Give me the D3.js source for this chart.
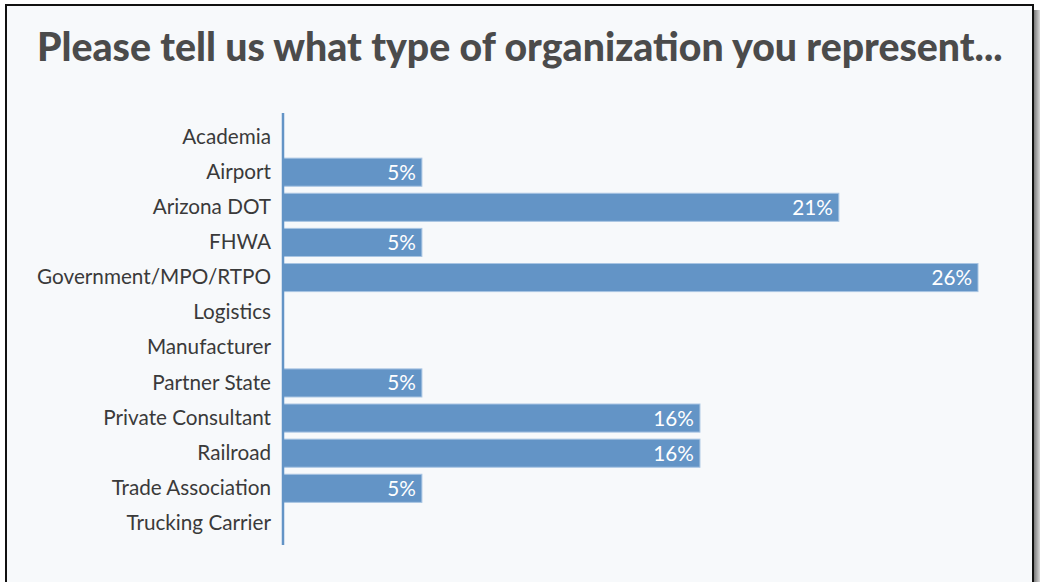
<!DOCTYPE html>
<html><head><meta charset="utf-8">
<script src="https://cdn.jsdelivr.net/npm/d3@7"></script>
<style>html,body{margin:0;padding:0;background:#fff;overflow:hidden}</style>
</head><body>
<svg id="chart" width="1040" height="582"></svg>
<script>
const titleText = "Please tell us what type of organization you represent...";
const categories = ["Academia","Airport","Arizona DOT","FHWA","Government/MPO/RTPO","Logistics","Manufacturer","Partner State","Private Consultant","Railroad","Trade Association","Trucking Carrier"];
const percents = [0, 5.26, 21.05, 5.26, 26.32, 0, 0, 5.26, 15.79, 15.79, 5.26, 0];

const svg = d3.select("#chart");
const defs = svg.append("defs");
const grad = defs.append("linearGradient").attr("id","shadow").attr("x1","0").attr("x2","1");
grad.append("stop").attr("offset","0").attr("stop-color","#7a7a7a");
grad.append("stop").attr("offset","1").attr("stop-color","#d8d8d8");

// shadow + frame
svg.append("rect").attr("x",1034).attr("y",10).attr("width",6).attr("height",600).attr("fill","url(#shadow)");
svg.append("rect").attr("x",6).attr("y",5).attr("width",1027).attr("height",600)
  .attr("fill","#f7f9fb").attr("stroke","#111").attr("stroke-width",2);

// title
const title = svg.append("text").attr("x",37).attr("y",61)
  .attr("font-family","Lato, 'Open Sans', sans-serif").attr("font-weight",900)
  .attr("font-size",36).attr("fill","#4b4b4b").text(titleText);
const tw = title.node().getComputedTextLength();
title.attr("font-size", 36*966/tw);

const x = d3.scaleLinear().domain([0, 26.32]).range([283, 978]);
const y = d3.scaleBand().domain(categories).range([119.5, 541]).paddingInner(0.2).paddingOuter(0.1);

const fmt = d => Math.round(d) + "%";
const rows = categories.map((c,i)=>({c, v: percents[i]})).filter(d=>d.v>0);

const g = svg.append("g");
g.selectAll("rect.bar").data(rows)
  .join("rect").attr("class","bar")
  .attr("x", x(0)).attr("y", d=>y(d.c))
  .attr("width", d=>x(d.v)-x(0)).attr("height", y.bandwidth())
  .attr("fill","#6394c6").attr("stroke","#a9c5e3").attr("stroke-width",1);

// axis
const axis = d3.axisLeft(y).tickSize(0).tickPadding(12);
const ag = svg.append("g").attr("transform",`translate(${x(0)},0)`).call(axis);
ag.select(".domain").attr("stroke","#6394c6").attr("stroke-width",2.5).attr("d","M0,113V545");
const labs = ag.selectAll("text").attr("font-family","Lato, 'Noto Sans', sans-serif").attr("font-size",20).attr("fill","#3a3a3a");
const gw = labs.filter(d=>d==="Government/MPO/RTPO").node().getComputedTextLength();
const fs = 20*234/gw;
labs.attr("font-size", fs);

g.selectAll("text.val").data(rows)
  .join("text").attr("class","val")
  .attr("x", d=>x(d.v)-6).attr("y", d=>y(d.c)+y.bandwidth()/2).attr("dy","0.36em")
  .attr("text-anchor","end").attr("fill","#fff")
  .attr("font-family","Lato, 'Noto Sans', sans-serif").attr("font-size",fs)
  .text(d=>fmt(d.v));
</script>
</body></html>
